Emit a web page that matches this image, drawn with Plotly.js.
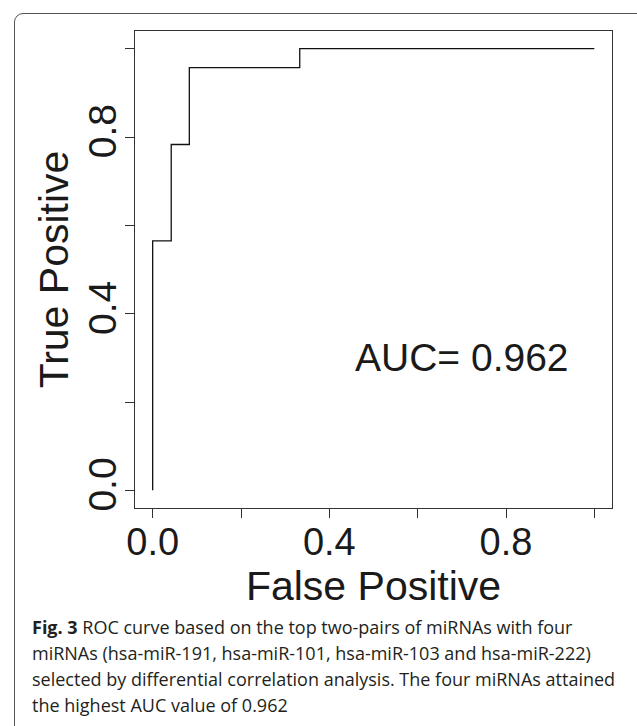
<!DOCTYPE html>
<html>
<head>
<meta charset="utf-8">
<script src="https://cdn.plot.ly/plotly-3.0.1.min.js"></script>
<style>
  html, body { margin: 0; padding: 0; background: #fff; width: 637px; height: 726px; overflow: hidden; }
  #frame { position: absolute; left: 14px; top: 13px; width: 640px; height: 760px;
           border: 1.3px solid #555; border-radius: 9px; box-sizing: border-box; }
  #chart { position: absolute; left: 0; top: 0; width: 637px; height: 726px; }
  #caption { position: absolute; left: 32px; top: 614px; width: 600px;
             font-family: "Open Sans", sans-serif; font-size: 18px; line-height: 26px; color: #231f20; white-space: nowrap; }
  #caption b { font-weight: 700; }
</style>
</head>
<body>
<div id="frame"></div>
<div id="chart"></div>
<div id="caption"><b>Fig. 3</b> ROC curve based on the top two-pairs of miRNAs with four<br>miRNAs (hsa-miR-191, hsa-miR-101, hsa-miR-103 and hsa-miR-222)<br>selected by differential correlation analysis. The four miRNAs attained<br>the highest AUC value of 0.962</div>
<script>
// ROC step points (false positive rate, true positive rate)
const falsePositive = [0, 0, 0.042, 0.083, 0.333, 1];
const truePositive  = [0, 0.565, 0.783, 0.957, 1, 1];
const tickValues = [0, 0.2, 0.4, 0.6, 0.8, 1.0];
const tickLabels = ["0.0", "", "0.4", "", "0.8", ""];
const aucLabel = "AUC= 0.962";
const aucPos = [0.7, 0.3];

const FONT = "Liberation Sans, Arial, Helvetica, sans-serif";

const trace = {
  x: falsePositive, y: truePositive, type: "scatter", mode: "lines",
  line: { shape: "hv", color: "#111", width: 1.3 },
  hoverinfo: "skip", showlegend: false
};

const axisCommon = {
  range: [-0.04, 1.04],
  tickmode: "array",
  tickvals: tickValues,
  ticktext: tickLabels,
  ticks: "outside", ticklen: 9, tickwidth: 1, tickcolor: "#333",
  showline: true, mirror: true, linecolor: "#333", linewidth: 1,
  showgrid: false, zeroline: false,
  fixedrange: true
};

const layout = {
  width: 637, height: 726,
  margin: { l: 135, r: 25, t: 31, b: 218 },
  paper_bgcolor: "rgba(0,0,0,0)", plot_bgcolor: "rgba(0,0,0,0)",
  font: { family: FONT, color: "#1a1a1a" },
  xaxis: Object.assign({}, axisCommon, {
    tickfont: { size: 38, family: FONT, color: "#1a1a1a" },
    ticklabelstandoff: -9,
    title: { text: "False Positive", font: { size: 41, family: FONT, color: "#1a1a1a" }, standoff: 4 }
  }),
  yaxis: Object.assign({}, axisCommon, {
    tickangle: -90,
    tickfont: { size: 39, family: FONT, color: "#1a1a1a" },
    ticklabelstandoff: -7,
    title: { text: "True Positive", font: { size: 41, family: FONT, color: "#1a1a1a" }, standoff: 0 }
  }),
  annotations: [{
    x: aucPos[0], y: aucPos[1], xref: "x", yref: "y", text: aucLabel, showarrow: false,
    font: { size: 39, family: FONT, color: "#1a1a1a" }, xanchor: "center", yanchor: "middle"
  }]
};

Plotly.newPlot("chart", [trace], layout, { displayModeBar: false, staticPlot: true });
</script>
</body>
</html>
